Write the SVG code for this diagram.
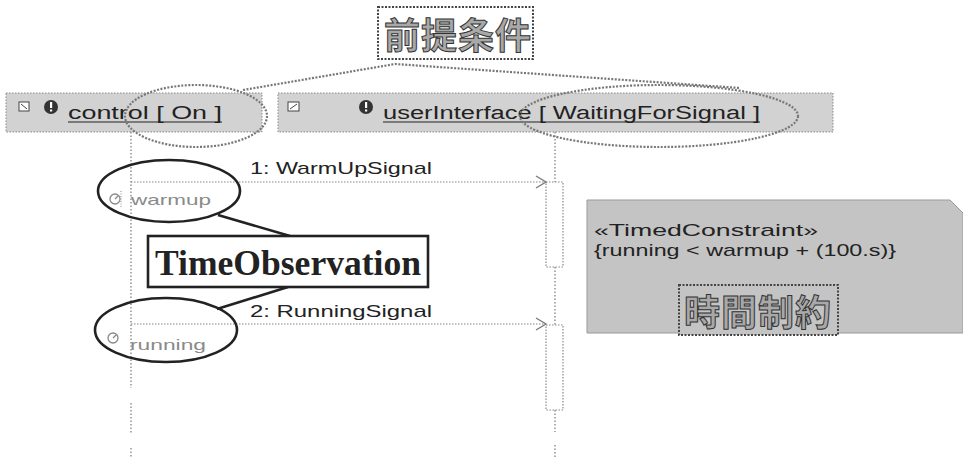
<svg xmlns="http://www.w3.org/2000/svg" width="963" height="457" viewBox="0 0 963 457">
  <style>
    .lbl { font-family: "Liberation Sans", "Noto Sans", sans-serif; fill: #222; }
    .hdr { fill: #d2d2d2; stroke: #888; stroke-width: 1; stroke-dasharray: 1.5 1.5; }
    .life { stroke: #777; stroke-width: 1.2; stroke-dasharray: 1.5 2; fill: none; }
    .act { fill: #fff; stroke: #888; stroke-width: 1.2; stroke-dasharray: 1.5 1.5; }
    .msg { stroke: #888; stroke-width: 1.2; stroke-dasharray: 1.5 1.5; fill: none; }
    .head { stroke: #777; stroke-width: 1.3; fill: none; }
    .pre { fill: none; stroke: #777; stroke-width: 2.2; stroke-dasharray: 2 1.5; }
    .obs { fill: none; stroke: #222; stroke-width: 2.6; }
    .cjk { font-family: "Noto Sans CJK JP", "Noto Sans CJK SC", sans-serif; font-weight: 700; fill: #a8a8a8; stroke: #333; stroke-width: 1; }
    .tag { stroke: #444; stroke-width: 2; stroke-dasharray: 2 1.5; }
    .ico { fill: #333; }
    .faint { font-family: "Liberation Sans", "Noto Sans", sans-serif; fill: #8a8a8a; }
  </style>

  <!-- lifelines, messages and activations -->
  <g id="connectors">
    <!-- control lifeline -->
    <line class="life" x1="131" y1="132" x2="131" y2="388"/>
    <line class="life" x1="131" y1="403" x2="131" y2="433"/>
    <line class="life" x1="131" y1="448" x2="131" y2="457"/>
    <!-- userInterface lifeline -->
    <line class="life" x1="555" y1="132" x2="555" y2="182"/>
    <line class="life" x1="555" y1="267" x2="555" y2="325"/>
    <line class="life" x1="555" y1="410" x2="555" y2="432"/>
    <line class="life" x1="555" y1="445" x2="555" y2="457"/>
    <rect class="act" x="546" y="182" width="17" height="85"/>
    <rect class="act" x="546" y="325" width="17" height="85"/>
    <!-- 1: WarmUpSignal -->
    <line class="msg" x1="131" y1="182" x2="546" y2="182"/>
    <polyline class="head" points="536,176 546,182 536,188"/>
    <text class="lbl" x="250" y="174" font-size="17" textLength="182" lengthAdjust="spacingAndGlyphs">1: WarmUpSignal</text>
    <!-- 2: RunningSignal -->
    <line class="msg" x1="131" y1="324" x2="546" y2="324"/>
    <polyline class="head" points="536,318 546,324 536,330"/>
    <text class="lbl" x="250" y="317" font-size="17" textLength="182" lengthAdjust="spacingAndGlyphs">2: RunningSignal</text>
    <!-- precondition callout lines -->
    <polyline class="pre" points="243,90 395,64 740,88"/>
    <!-- time observation callout lines -->
    <line class="obs" x1="218" y1="215" x2="290" y2="236"/>
    <line class="obs" x1="288" y1="287" x2="217" y2="309"/>
  </g>

  <!-- lifeline head: control -->
  <g id="control">
    <rect class="hdr" x="6" y="93" width="256" height="39"/>
    <rect x="19" y="102" width="10" height="9" fill="#fff" stroke="#444" stroke-width="1"/>
    <line x1="21" y1="104" x2="27" y2="109" stroke="#444" stroke-width="1"/>
    <circle cx="51" cy="107" r="7" class="ico"/>
    <rect x="50" y="102" width="2.2" height="6" fill="#fff"/>
    <rect x="50" y="109.5" width="2.2" height="2" fill="#fff"/>
    <text class="lbl" x="68" y="119" font-size="18" textLength="154" lengthAdjust="spacingAndGlyphs">control [ On ]</text>
    <line x1="68" y1="122" x2="222" y2="122" stroke="#222" stroke-width="1.2"/>
  </g>

  <!-- lifeline head: userInterface -->
  <g id="userInterface">
    <rect class="hdr" x="278" y="93" width="555" height="39"/>
    <rect x="288" y="102" width="11" height="9" fill="#fff" stroke="#444" stroke-width="1"/>
    <line x1="290" y1="109" x2="297" y2="104" stroke="#444" stroke-width="1"/>
    <circle cx="366" cy="107" r="7" class="ico"/>
    <rect x="365" y="102" width="2.2" height="6" fill="#fff"/>
    <rect x="365" y="109.5" width="2.2" height="2" fill="#fff"/>
    <text class="lbl" x="383" y="119" font-size="18" textLength="377" lengthAdjust="spacingAndGlyphs">userInterface [ WaitingForSignal ]</text>
    <line x1="383" y1="122" x2="760" y2="122" stroke="#222" stroke-width="1.2"/>
  </g>

  <!-- state invariant highlights -->
  <g id="precondition-marks">
    <ellipse class="pre" cx="196" cy="116" rx="71" ry="31"/>
    <ellipse class="pre" cx="659" cy="116" rx="139" ry="31"/>
  </g>

  <!-- precondition label -->
  <g id="precondition">
    <rect class="tag" x="378" y="7" width="155" height="52" fill="#fff"/>
    <text class="cjk" x="384" y="49" font-size="36" letter-spacing="1">前提条件</text>
  </g>

  <!-- time observation: warmup -->
  <g id="warmup">
    <ellipse class="obs" cx="169" cy="191" rx="71" ry="31"/>
    <circle cx="115" cy="199" r="5" fill="none" stroke="#888" stroke-width="1.3"/>
    <line x1="115" y1="199" x2="118" y2="196" stroke="#888" stroke-width="1.2"/>
    <line x1="121" y1="191" x2="121" y2="207" stroke="#888" stroke-width="1" stroke-dasharray="1 1.5"/>
    <text class="faint" x="131" y="205" font-size="15" textLength="80" lengthAdjust="spacingAndGlyphs">warmup</text>
  </g>

  <!-- time observation: running -->
  <g id="running">
    <ellipse class="obs" cx="166" cy="330" rx="71" ry="32"/>
    <circle cx="113" cy="338" r="5" fill="none" stroke="#888" stroke-width="1.3"/>
    <line x1="113" y1="338" x2="116" y2="335" stroke="#888" stroke-width="1.2"/>
    <text class="faint" x="130" y="350" font-size="15" textLength="76" lengthAdjust="spacingAndGlyphs">running</text>
  </g>

  <!-- TimeObservation label -->
  <g id="timeObservation">
    <rect x="148" y="236" width="280" height="51" fill="#fff" stroke="#222" stroke-width="2.6"/>
    <text x="155" y="275" font-family="Liberation Serif, serif" font-weight="700" font-size="36" fill="#222" textLength="266" lengthAdjust="spacingAndGlyphs">TimeObservation</text>
  </g>

  <!-- timed constraint note -->
  <g id="timedConstraint">
    <path d="M587,200 H950 L963,213 V333 H587 Z" fill="#c4c4c4" stroke="#999" stroke-width="1"/>
    <text class="lbl" x="594" y="236" font-size="17" textLength="224" lengthAdjust="spacingAndGlyphs">«TimedConstraint»</text>
    <text class="lbl" x="594" y="256" font-size="17" textLength="302" lengthAdjust="spacingAndGlyphs">{running &lt; warmup + (100.s)}</text>
    <rect class="tag" x="679" y="285" width="159" height="50" fill="#c4c4c4"/>
    <text class="cjk" x="684" y="326" font-size="36" letter-spacing="1">時間制約</text>
  </g>
</svg>
